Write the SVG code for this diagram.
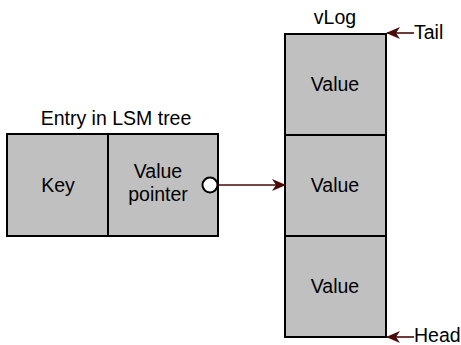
<svg xmlns="http://www.w3.org/2000/svg" width="461" height="345" viewBox="0 0 461 345">
<style>
.box{fill:#c0c0c0;stroke:#000;stroke-width:2}
text{font-family:"Liberation Sans",Arial,sans-serif;font-size:19.5px;fill:#000}
.c{text-anchor:middle}
.conn{stroke:#4a0a0a;stroke-width:1.6;fill:none}
</style>
<defs>
<marker id="ah" markerWidth="14" markerHeight="12" refX="13" refY="6" orient="auto" markerUnits="userSpaceOnUse">
<path d="M0,0 L14,6 L0,12 L4,6 Z" fill="#4a0a0a"/>
</marker>
</defs>
<rect width="461" height="345" fill="#fff"/>
<g id="entry">
<text class="c" x="116" y="125">Entry in LSM tree</text>
<g id="key">
<rect class="box" x="7" y="134" width="101" height="102"/>
<text class="c" x="58" y="192">Key</text>
</g>
<g id="valueptr">
<rect class="box" x="108" y="134" width="110" height="102"/>
<text class="c" x="158" y="178">Value</text>
<text class="c" x="158" y="201">pointer</text>
</g>
</g>
<g id="vlog">
<text class="c" x="335" y="24">vLog</text>
<g id="v1"><rect class="box" x="285" y="34" width="101" height="101"/><text class="c" x="335" y="91">Value</text></g>
<g id="v2"><rect class="box" x="285" y="135" width="101" height="101"/><text class="c" x="335" y="192">Value</text></g>
<g id="v3"><rect class="box" x="285" y="236" width="101" height="101"/><text class="c" x="335" y="293">Value</text></g>
</g>
<g id="tail"><text x="414" y="39">Tail</text></g>
<g id="head"><text x="414" y="342">Head</text></g>
<g id="connectors">
<line class="conn" x1="217" y1="185" x2="285" y2="185" marker-end="url(#ah)"/>
<line class="conn" x1="414" y1="33" x2="387" y2="33" marker-end="url(#ah)"/>
<line class="conn" x1="414" y1="337" x2="387" y2="337" marker-end="url(#ah)"/>
<circle cx="210" cy="185" r="7.5" fill="#fff" stroke="#000" stroke-width="2"/>
</g>
</svg>
